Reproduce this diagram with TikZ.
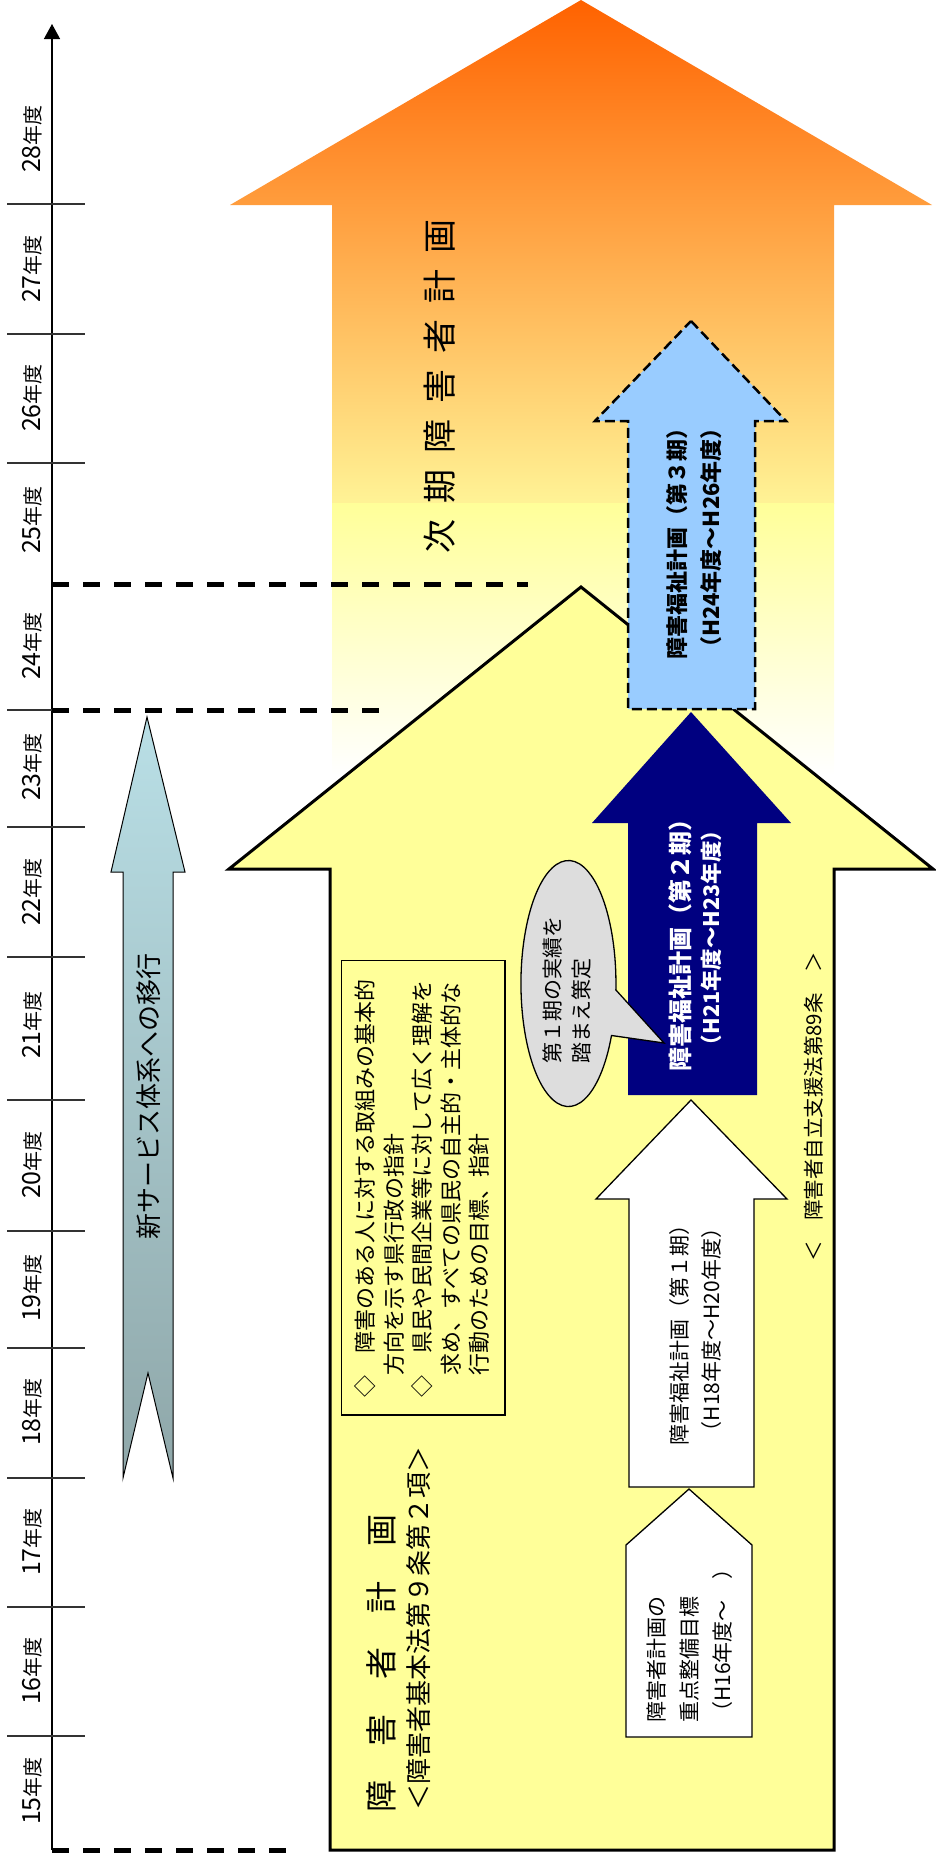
\documentclass[tikz,border=0pt]{standalone}
\usepackage{fontspec}
\setmainfont{Noto Sans CJK JP}
\usetikzlibrary{arrows.meta}
\definecolor{yel}{HTML}{FFFF99}
\definecolor{orTop}{HTML}{FF6200}
\definecolor{orBot}{HTML}{FFF396}
\definecolor{tealTop}{HTML}{B9DFE6}
\definecolor{tealBot}{HTML}{8FA7A9}
\definecolor{navyc}{HTML}{000080}
\definecolor{ltblue}{HTML}{99CCFF}
\definecolor{callgray}{HTML}{DDDDDD}
\newcommand\yearlbl[1]{{\fontsize{25}{24}\selectfont #1}年度}
\tikzset{
  yr/.style={rotate=90, inner sep=0pt, font=\fontsize{20}{24}\selectfont},
  tickline/.style={line width=1.3pt, draw=black!80},
  dashline/.style={line width=5pt, dash pattern=on 17pt off 14pt},
  vtext/.style={rotate=90, inner sep=0pt},
  outl/.style={line width=1.3pt, draw=black, line join=miter},
}
\begin{document}
\begin{tikzpicture}[x=1pt,y=-1pt]
\useasboundingbox (0,0) rectangle (935,1858);

% next-term orange arrow
\shade[top color=orTop, bottom color=orBot] (581,0) -- (932,205) -- (834,205) -- (834,504) -- (332,504) -- (332,205) -- (230,205) -- cycle;
\shade[top color=yel, bottom color=white] (332,503) rectangle (834,775);

% big yellow arrow
\draw[line width=3pt, fill=yel, line join=miter] (581,587) -- (933,869) -- (834,869) -- (834,1850) -- (330,1850) -- (330,869) -- (229,869) -- cycle;

% text box
\draw[line width=1.5pt, fill=yel] (341.5,960.5) rectangle (505,1415);

% axis
\coordinate (axisBot) at (52,1850);
\coordinate (axisTop) at (52,24);
\draw[line width=1.3pt, -{Triangle[length=15pt,width=16pt]}] (axisBot) -- (axisTop);

% ticks
\foreach \ty in {204,334,463,827,957,1100,1231,1348,1478,1607,1736}
  \draw[tickline] (7,\ty) -- (85,\ty);
\draw[tickline] (7,710) -- (52,710);

% dashed period lines
\coordinate (dAa) at (52,584); \coordinate (dAb) at (528,584);
\coordinate (dBa) at (52,710); \coordinate (dBb) at (379,710);
\coordinate (dCa) at (52,1850); \coordinate (dCb) at (289,1850);
\draw[dashline] (dAa) -- (dAb);
\draw[dashline] (dBa) -- (dBb);
\draw[dashline] (dCa) -- (dCb);

% left transition arrow
\path[draw=black, line width=1pt, top color=tealTop, bottom color=tealBot]
  (147,717) -- (185,872) -- (173,872) -- (173,1478) -- (148,1373) -- (123,1478) -- (123,872) -- (111,872) -- cycle;

% third term (dashed light blue)
\draw[fill=ltblue, line width=2.5pt, dash pattern=on 10pt off 5pt, line join=miter]
  (691,321) -- (786,421) -- (755,421) -- (755,709) -- (628,709) -- (628,421) -- (595,421) -- cycle;

% second term (navy)
\fill[navyc] (691,712) -- (791,823) -- (757,823) -- (757,1095) -- (628,1095) -- (628,823) -- (592,823) -- cycle;

% first term (white)
\draw[outl, fill=white] (691,1100) -- (787,1199) -- (754,1199) -- (754,1487) -- (629,1487) -- (629,1199) -- (596,1199) -- cycle;

% pentagon
\draw[outl, fill=white] (689,1489) -- (752,1545) -- (752,1737) -- (626,1737) -- (626,1545) -- cycle;

% callout
\draw[outl, fill=callgray] (664,1043) -- (611.5,1035.5) arc[start angle=25, end angle=363, x radius=47.5, y radius=123] -- cycle;

% year labels
\node[yr] (y28) at (32,139) {\yearlbl{28}};
\node[yr] (y27) at (32,269) {\yearlbl{27}};
\node[yr] (y26) at (32,398) {\yearlbl{26}};
\node[yr] (y25) at (32,520) {\yearlbl{25}};
\node[yr] (y24) at (32,646) {\yearlbl{24}};
\node[yr] (y23) at (32,767) {\yearlbl{23}};
\node[yr] (y22) at (32,892) {\yearlbl{22}};
\node[yr] (y21) at (32,1025) {\yearlbl{21}};
\node[yr] (y20) at (32,1165) {\yearlbl{20}};
\node[yr] (y19) at (32,1288) {\yearlbl{19}};
\node[yr] (y18) at (32,1412) {\yearlbl{18}};
\node[yr] (y17) at (32,1542) {\yearlbl{17}};
\node[yr] (y16) at (32,1671) {\yearlbl{16}};
\node[yr] (y15) at (32,1791) {\yearlbl{15}};

% texts
\node[vtext, font={\fontsize{34}{40}\selectfont\spaceskip=16pt\relax}] (next) at (440,386) {次 期 障 害 者 計 画};

\node[vtext, font=\fontsize{26}{30}\selectfont] (newsys) at (149,1096) {新サービス体系への移行};

\node[vtext, anchor=west, font={\fontsize{32}{38}\selectfont\spaceskip=34.5pt\relax}] (plan) at (381,1813) {障 害 者 計 画};
\node[vtext, anchor=west, font=\fontsize{26}{30}\selectfont] (planlaw) at (419,1811) {＜障害者基本法第９条第２項＞};

\node[vtext, anchor=west, align=left, font=\fontsize{22}{28.5}\selectfont] (box) at (422,1398)
  {◇　障害のある人に対する取組みの基本的\\　方向を示す県行政の指針\\◇　県民や民間企業等に対して広く理解を\\　求め、すべての県民の自主的・主体的な\\　行動のための目標、指針};

\node[vtext, font=\fontsize{20.5}{24}\selectfont] (law89) at (814,1107) {＜　障害者自立支援法第89条　＞};

\node[vtext, align=center, font=\bfseries\fontsize{22}{34}\selectfont] (t3) at (694,538)
  {障害福祉計画（第３期）\\（H24年度～H26年度）};

\node[vtext, text=white, font=\bfseries\fontsize{24}{30}\selectfont] (t2a) at (680,939) {障害福祉計画（第２期）};
\node[vtext, text=white, font=\bfseries\fontsize{21.5}{30}\selectfont] (t2b) at (711,938) {（H21年度～H23年度）};

\node[vtext, align=center, font=\fontsize{21}{32}\selectfont] (t1) at (696,1330)
  {障害福祉計画（第１期）\\（H18年度～H20年度）};

\node[vtext, anchor=west, align=left, font=\fontsize{21}{33}\selectfont] (pent) at (690,1723)
  {障害者計画の\\重点整備目標\\（H16年度～　）};

\node[vtext, anchor=west, align=left, font=\fontsize{21}{29}\selectfont] (call) at (567.5,1064)
  {第１期の実績を\\踏まえ策定};
\end{tikzpicture}
\end{document}
